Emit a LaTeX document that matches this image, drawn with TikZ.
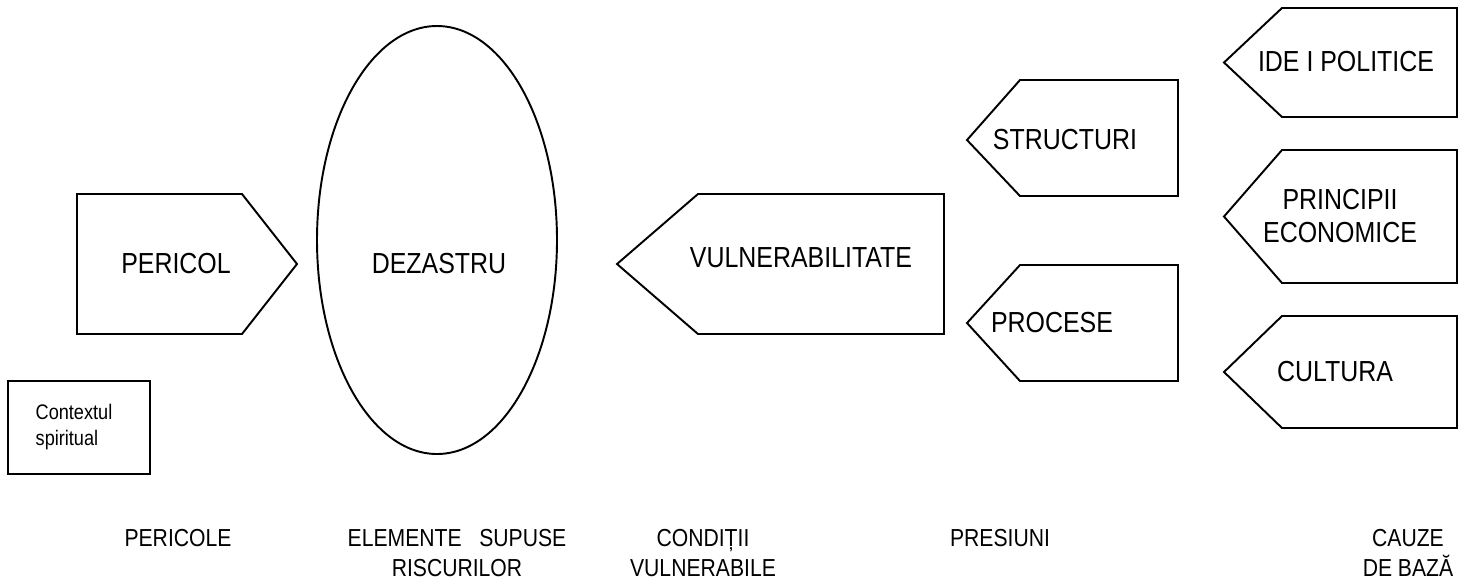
\documentclass[tikz,border=0pt]{standalone}
\usepackage{fontspec}
\setmainfont[FakeStretch=0.86]{Liberation Sans}
\begin{document}
\begin{tikzpicture}[x=0.02cm,y=-0.02cm,line width=1.1pt,
    lbl/.style={font=\fontsize{16.5}{17}\selectfont,align=center,inner sep=0pt},
    title/.style={font=\fontsize{14}{17}\selectfont,align=center,inner sep=0pt},
    small/.style={font=\fontsize{12}{15}\selectfont,align=left,inner sep=0pt}]
        \useasboundingbox (0,0) rectangle (1482,583);
        % hazard and disaster
        \draw (77,194) -- (242,194) -- (297,264) -- (242,334) -- (77,334) -- cycle;
        \node [lbl] (Pericol) at (176,264) {PERICOL};
        \draw (437,240) ellipse [x radius=120, y radius=214];
        \node [lbl] (Dezastru) at (439,264) {DEZASTRU};
        \draw (617,264) -- (698,194) -- (944,194) -- (944,334) -- (698,334) -- cycle;
        \node [lbl] (Vuln) at (801,258) {VULNERABILITATE};
        % pressures
        \draw (967,140) -- (1020,80) -- (1178,80) -- (1178,196) -- (1020,196) -- cycle;
        \node [lbl] (Structuri) at (1065,140) {STRUCTURI};
        \draw (967,323) -- (1020,265) -- (1178,265) -- (1178,381) -- (1020,381) -- cycle;
        \node [lbl] (Procese) at (1052,323) {PROCESE};
        % root causes
        \foreach \top/\bot in {8/117,150/283,316/428}
            \draw (1224,{(\top+\bot)/2}) -- (1282,\top) -- (1457,\top) -- (1457,\bot) -- (1282,\bot) -- cycle;
        \node [lbl] (Idei) at (1346,62) {IDE I POLITICE};
        \node [lbl,align=center] (Principii) at (1340,216) {PRINCIPII\\[2pt]ECONOMICE};
        \node [lbl] (Cultura) at (1335,372) {CULTURA};
        \draw (8,381) rectangle (150,474);
        \node [small] (Context) at (74,427) {Contextul\\spiritual};
        % column titles
        \node [title] (tPericole) at (178,538) {PERICOLE};
        \node [title,anchor=north] (tElemente) at (457,528) {ELEMENTE\ \ \ SUPUSE\\RISCURILOR};
        \node [title,anchor=north] (tConditii) at (703,528) {CONDIȚII\\VULNERABILE};
        \node [title] (tPresiuni) at (1000,538) {PRESIUNI};
        \node [title,anchor=north] (tCauze) at (1408,528) {CAUZE\\DE BAZĂ};
\end{tikzpicture}
\end{document}
